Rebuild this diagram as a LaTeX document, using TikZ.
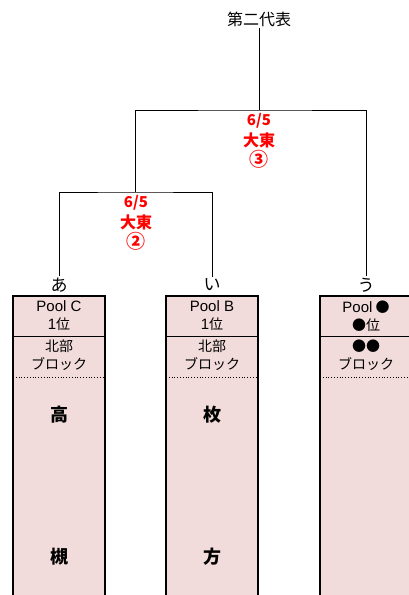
\documentclass[tikz,border=0pt]{standalone}
\usepackage{fontspec}
\setmainfont{Noto Sans CJK JP}
\newfontfamily\latfont{Liberation Sans}
\usepackage{tikz}

\definecolor{poolpink}{HTML}{F2DCDB}

\begin{document}
\begin{tikzpicture}[
      x = 1pt, y = -1pt, line width = 1pt,
      every node/.style = {
        inner sep = 1pt, align = center, font = \fontsize{14}{18}\selectfont},
      score/.style = {text = red, font = \fontsize{16}{20.5}\selectfont\bfseries},
      team/.style = {font = \fontsize{17}{20}\selectfont},
      town/.style = {font = \fontsize{18}{20}\selectfont\bfseries},
      poolbox/.style = {fill = poolpink, draw = black, line width = 1.2pt}
      ]
    \useasboundingbox (0,0) rectangle (409,595);
    \clip (0,0) rectangle (409,595);
    % boxes
    \foreach \x in {13,166,320} {
      \filldraw[poolbox] (\x,296) rectangle ++(92,310);
      \draw (\x,336) -- ++(92,0);
      \draw[dotted, line width = .8pt] (\x,377) -- ++(92,0);
    }
    \node (title) at (259,19) {\fontsize{16}{18}\selectfont 第二代表};
    \node[team] (A) at (59,285) {あ}; % 0
    \node[team] (I) at (212,285) {い}; % 1
    \node[team] (U) at (366,285) {う}; % 2
    \coordinate (semi) at (135,192);
    \coordinate (final) at (259,110);
    \draw (title) -- (final);
    \draw (A.north) |- (semi) -| (I.north);
    \draw (semi) |- (final) -| (U.north);
    \node[score] (scoreF) at (259,141) {{\fontsize{15}{20.5}\selectfont 6/5}\\大東\\{\fontsize{19}{20.5}\selectfont ③}};
    \node[score] (scoreS) at (136,223) {{\fontsize{15}{20.5}\selectfont 6/5}\\大東\\{\fontsize{19}{20.5}\selectfont ②}};
    % pool rows
    \node (poolA) at (59,316) {{\latfont\fontsize{15}{18}\selectfont Pool C}\\{\latfont\fontsize{15}{18}\selectfont 1}位};
    \node (poolI) at (212,316) {{\latfont\fontsize{15}{18}\selectfont Pool B}\\{\latfont\fontsize{15}{18}\selectfont 1}位};
    \node (poolU) at (366,316) {{\latfont\fontsize{15}{18}\selectfont Pool} ●\\●位};
    \node (blockA) at (59,355) {北部\\ブロック};
    \node (blockI) at (212,355) {北部\\ブロック};
    \node (blockU) at (366,355) {●●\\ブロック};
    \node[town] (takaA) at (59,415) {高};
    \node[town] (tsukiA) at (59,557) {槻};
    \node[town] (hiraI) at (212,415) {枚};
    \node[town] (kataI) at (212,557) {方};
  \end{tikzpicture}
\end{document}
